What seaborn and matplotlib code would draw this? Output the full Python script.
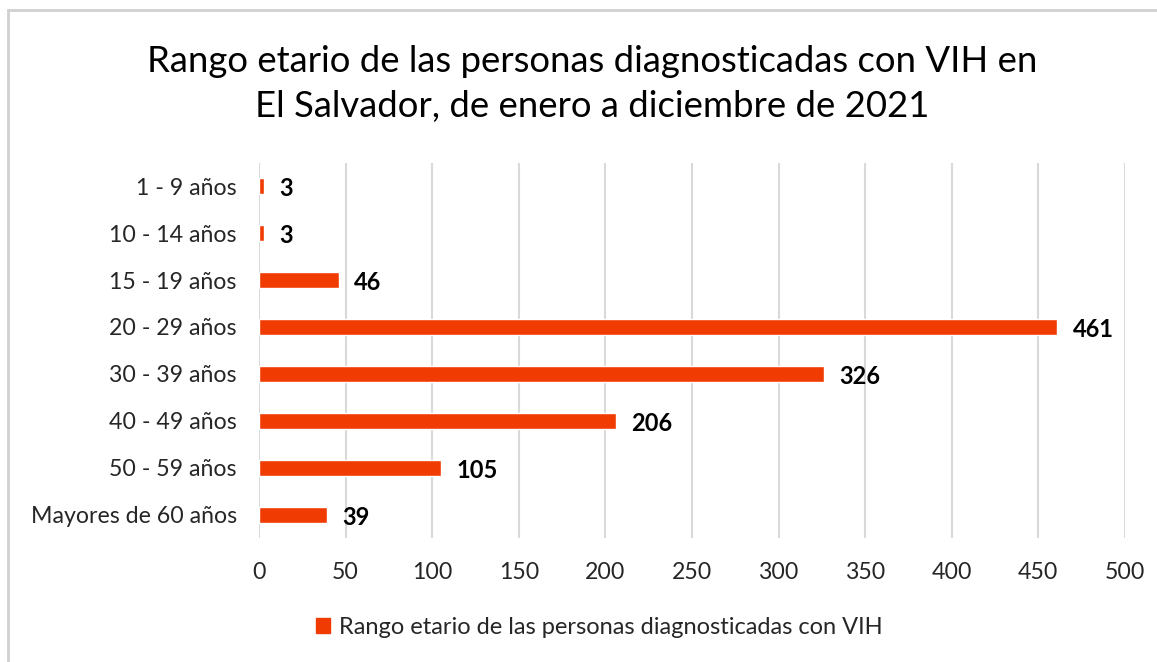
import pandas as pd
import matplotlib.pyplot as plt
import seaborn as sns
from matplotlib.patches import Rectangle, Patch

# values
grupos = ["1 - 9 años", "10 - 14 años", "15 - 19 años", "20 - 29 años",
          "30 - 39 años", "40 - 49 años", "50 - 59 años", "Mayores de 60 años"]
casos = [3, 3, 46, 461, 326, 206, 105, 39]
serie = "Rango etario de las personas diagnosticadas con VIH"
titulo = "Rango etario de las personas diagnosticadas con VIH en\nEl Salvador, de enero a diciembre de 2021"

df = pd.DataFrame({"Grupo": grupos, "Casos": casos})

sns.set_theme(style="white")
plt.rcParams["font.family"] = ["Lato", "DejaVu Sans"]
color = "#F03C02"

fig = plt.figure(figsize=(11.57, 6.62), dpi=100)
ax = fig.add_axes([0.2239, 0.1866, 0.7484, 0.5679])

sns.barplot(data=df, x="Casos", y="Grupo", color=color, width=0.36,
            saturation=1, ax=ax)

ax.set_xlim(0, 500)
ax.set_xticks(range(0, 501, 50))
ax.set_ylim(7.5, -0.5)
ax.grid(axis="x", color="#D9D9D9", linewidth=1.5)
ax.set_axisbelow(True)
for s in ax.spines.values():
    s.set_visible(False)
ax.set_xlabel("")
ax.set_ylabel("")
ax.tick_params(axis="both", length=0, labelsize=16.7, labelcolor="#262626")
ax.tick_params(axis="x", pad=17)
ax.tick_params(axis="y", pad=16)

for i, v in enumerate(casos):
    ax.annotate(str(v), (v, i), xytext=(11, -2), textcoords="offset points",
                va="center", ha="left", fontsize=17, fontweight="bold",
                color="black")

fig.text(0.512, 0.873, titulo, ha="center", va="center", fontsize=26.3,
         color="black", linespacing=1.45)

fig.legend(handles=[Patch(color=color, label=serie)], loc="center",
           bbox_to_anchor=(0.518, 0.052), frameon=False, fontsize=17,
           handlelength=0.6, handleheight=0.6, handletextpad=0.4)

fig.patches.append(Rectangle((8 / 1157, -0.1), 1.2, 1.1 - 10 / 662,
                             transform=fig.transFigure, fill=False,
                             edgecolor="#D0D0D0", linewidth=2))

fig.savefig("out.png", dpi=100)
